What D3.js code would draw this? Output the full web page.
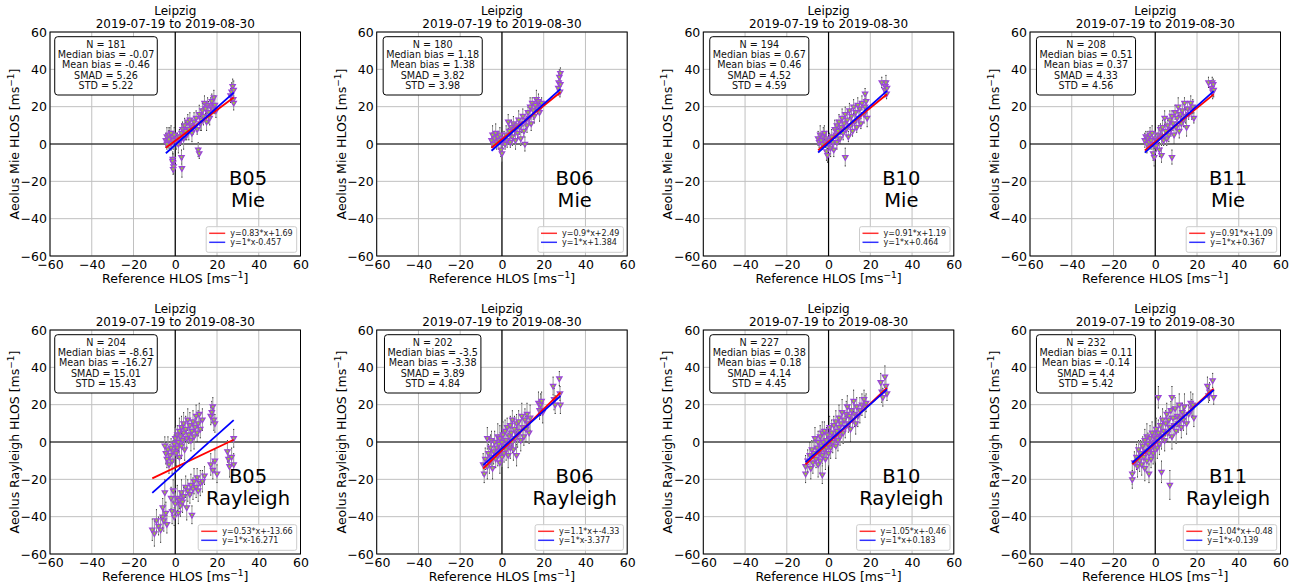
<!DOCTYPE html>
<html>
<head>
<meta charset="utf-8">
<script src="https://cdn.jsdelivr.net/npm/d3@7"></script>
<style>
  body { margin: 0; background: #fff; }
  svg { display: block; font-family: "DejaVu Sans", sans-serif; }
</style>
</head>
<body>
<div id="chart"></div>
<script>
// ---------- data ----------
var panelBaseline = ["B05", "B06", "B10", "B11", "B05", "B06", "B10", "B11"];
var panelChannel  = ["Mie", "Mie", "Mie", "Mie", "Rayleigh", "Rayleigh", "Rayleigh", "Rayleigh"];
var nObs       = [181, 180, 194, 208, 204, 202, 227, 232];
var medianBias = [-0.07, 1.18, 0.67, 0.51, -8.61, -3.5, 0.38, 0.11];
var meanBias   = [-0.46, 1.38, 0.46, 0.37, -16.27, -3.38, 0.18, -0.14];
var smad       = [5.26, 3.82, 4.52, 4.33, 15.01, 3.89, 4.14, 4.4];
var stdDev     = [5.22, 3.98, 4.59, 4.56, 15.43, 4.84, 4.45, 5.42];
var fitSlope     = [0.83, 0.9, 0.91, 0.91, 0.53, 1.1, 1.05, 1.04];
var fitIntercept = [1.69, 2.49, 1.19, 1.09, -13.66, -4.33, -0.46, -0.48];
var biasOffset   = [-0.457, 1.384, 0.464, 0.367, -16.271, -3.377, 0.183, -0.139];
var tickValues = [-60, -40, -20, 0, 20, 40, 60];

// [reference HLOS, Aeolus HLOS, error]
var ptsB05Mie = [[-4.5,2,4],[-4,4,5],[-3.5,1,3],[-3,5,4],[-2.5,3,6],[-2,0.5,4],[-1.5,4,3],[-1,2,5],[-0.5,5,4],[-4,0,3],[-3,2.5,5],[-2,6,4],
  [-1.2,-8,4],[-1,-10,5],[-0.8,-12,4],[-1,-13.5,3],[-1.3,-9,4],
  [0.5,1,4],[1,3,3],[1.5,0,5],[2,4,4],[2.5,2,3],[3,6,5],[3,-7,4],[3.2,-13,5],[3.5,8,4],[4,3,6],
  [4.5,10,4],[5,7,5],[5.5,5,3],[6,12,4],[6.5,8,6],[7,13,4],[7.5,10,3],[8,6,5],[8.5,9,4],
  [9,12,5],[10,14,4],[10.5,8,3],[11,-3,4],[11.5,-5,3],[11.5,16,5],[12,11,4],[12.5,13,6],
  [13,18,4],[13.5,15,5],[14,22,4],[14.5,19,3],[15,12,5],[15.5,21,4],[16,17,6],[16.5,14,4],[17,20,5],[17.5,23,4],[18,19,3],[18.5,25,4],[19,21,5],[19.5,18,4],
  [26.5,26,4],[27,28,5],[27.5,31,4],[27.8,24,3],[28,22,4],[28,29,5]];
var ptsB06Mie = [[-5,2,4],[-4.5,5,5],[-4,0,3],[-3.5,3,4],[-3,6,5],[-2.5,1,4],[-2,4,3],[-1.5,2,5],[-1,5,4],[-0.5,-3,4],[0,-5,5],[0,1,3],
  [1,3,4],[1.5,0,3],[2,5,5],[2.5,2,4],[3,12,4],[3.5,7,5],[4,1,3],[4.5,9,4],[5,4,5],[5.5,11,4],[6,8,3],[6.5,2,5],[7,10,4],[7.5,6,3],
  [8,13,5],[8.5,9,4],[9,3,4],[9.5,11,5],[10,15,4],[10.5,7,3],[11,0,4],[11.5,13,5],[12,10,4],[12.5,17,3],[13,14,4],[13.5,20,5],
  [14,11,4],[14.5,22,3],[15,18,5],[15.5,15,4],[16,21,4],[16.5,24,5],[17,19,3],[17.5,23,4],[18,17,5],[18.5,20,4],[19,22,3],
  [27,30,4],[27.2,33,5],[27.5,36,4],[27.8,28,3],[28,32,4],[28,38,3]];
var ptsB10Mie = [[-5,3,4],[-4.5,1,3],[-4,5,5],[-3.5,2,4],[-3,0,3],[-2.5,4,5],[-2,6,4],[-1.5,1,3],[-1,3,4],[-1,-4,5],[-0.5,-6,4],
  [0,0,3],[0.5,2,4],[1,-2,5],[1.5,4,4],[2,1,3],[2.5,-3,4],[3,8,5],[3.5,5,4],[4,10,3],[4,1,4],[4.5,7,5],[5,12,4],[5.5,3,3],
  [6,9,4],[6.5,14,5],[7,6,4],[7.5,11,3],[8,-7,5],[8,16,4],[8.5,8,4],[9,13,5],[9.5,4,3],[10,18,4],[10.5,10,5],[11,15,4],
  [11.5,7,3],[12,20,4],[12.5,12,5],[13,17,4],[13.5,9,3],[14,21,4],[14.5,14,5],[15,19,4],[15.5,11,3],[16,22,4],[17,16,5],
  [17.5,20,4],[17.5,27,3],[18,23,4],[18.5,14,5],[25.5,33,3],[27,29,4],[27.2,31,3],[27.5,33,4],[27.8,27,3],[28,30,4]];
var ptsB11Mie = [[-5,2,4],[-4.5,4,3],[-4,0,5],[-3.5,3,4],[-3,1,3],[-2.5,5,4],[-2,2,5],[-1.5,6,4],[-1,0,3],[-1,-5,4],[-0.5,-7,5],
  [0,3,4],[0.5,-1,3],[1,2,4],[1.5,5,5],[2,-3,4],[2.5,8,3],[3,-6,4],[3,4,5],[3.5,9,4],[4,2,3],[4.5,14,4],[5,7,5],[5.5,3,4],
  [6,10,3],[6.5,5,4],[7,13,5],[7.5,8,4],[8,-7,4],[8,15,3],[8.5,11,4],[9,5,5],[9.5,17,4],[10,9,3],[10.5,14,4],[11,20,5],
  [11.5,7,4],[12,16,3],[12.5,11,4],[13,18,5],[13.5,13,4],[14,22,3],[14.5,15,4],[15,9,5],[15.5,19,4],[16,16,3],[17,22,4],
  [17.5,18,5],[18,20,4],[18.5,14,3],[25.5,33,3],[27,30,4],[27.3,33,3],[27.5,28,4],[27.8,32,3],[28,29,4]];
var ptsB05Ray = [[-5,-2,5],[-4.5,-6,6],[-4,-9,5],[-3.5,-4,7],[-3,-12,5],[-2.5,-7,6],[-2,-3,5],[-1.5,-10,7],[-1,-5,6],[-0.5,-1,5],
  [0,2,6],[0.5,-6,7],[1,4,5],[1,-3,6],[1.5,0,5],[2,6,7],[2,-8,6],[2.5,3,5],[3,8,6],[3,-2,7],[3.5,1,5],[4,10,6],[4,5,5],
  [4.5,-4,6],[5,7,7],[5.5,2,5],[6,12,6],[6.5,4,5],[7,9,7],[7.5,1,6],[8,6,5],[8.5,11,6],[9,3,7],[9.5,8,5],[10,14,6],
  [10.5,5,5],[11,10,7],[11.5,15,6],[12,7,5],[13,12,6],[17,14,5],[17.5,16,6],[18,19,5],[18.5,12,6],[19,10,5],
  [-11,-47,6],[-10,-49,7],[-9,-42,6],[-8,-45,5],[-7,-47,7],[-6,-40,6],[-6,-35,5],[-5.5,-42,6],[-5,-27,7],[-4.5,-38,6],
  [-4,-44,5],[-2,-30,6],[-1.5,-37,7],[-1,-26,6],[-0.5,-40,5],[0,-33,6],[1,-30,7],[1.5,-38,6],[2,-31,5],[2.5,-34,6],
  [3,-27,7],[3.5,-32,6],[4,-29,5],[5,-24,6],[5.5,-35,7],[6,-26,6],[7,-28,5],[7.5,-23,6],[8,-39,5],[8.5,-25,6],[9,-21,7],
  [10,-24,6],[10.5,-19,5],[11,-26,6],[12,-22,7],[13,-21,6],[14,-18,5],[17,-12,6],[18,-15,5],[19,-10,6],[20,-17,5],
  [25,-5,6],[25.5,-9,5],[26,-13,6],[27,-8,5],[28,-12,6],[28,2,5]];
var ptsB06Ray = [[-9,-12,6],[-8.5,-17,5],[-8,-9,6],[-7,-13,7],[-7,2,6],[-6.5,-6,5],[-6,-11,6],[-5.5,-3,7],[-5,-8,6],[-5,1,5],
  [-4.5,-14,6],[-4,-5,7],[-3.5,0,6],[-3,-9,5],[-2.5,-3,6],[-2,3,7],[-2,-7,6],[-1.5,-1,5],[-1,-11,6],[-1,2,7],[-0.5,-4,6],
  [0,0,5],[0,-8,6],[0.5,4,7],[1,-2,6],[1,-6,5],[1.5,6,6],[2,1,7],[2,-4,6],[2.5,8,5],[3,-1,6],[3,-7,7],[3.5,3,6],[4,9,5],
  [4,-3,6],[4.5,5,7],[5,0,6],[5,12,5],[5.5,-4,6],[6,7,7],[6.5,2,6],[7,10,5],[7,-7,6],[7.5,4,7],[8,11,6],[8.5,6,5],[9,1,6],
  [9.5,14,7],[10,8,6],[10.5,3,5],[11,12,6],[11.5,7,7],[12,15,6],[12.5,10,5],[13,5,6],[13.5,13,7],[17.5,21,6],[18,17,5],
  [18.5,20,6],[19,22,5],[19.5,16,6],[24.5,30,5],[25,23,6],[25.5,20,5],[27.5,34,4],[28,20,5],[27.8,26,4]];
var ptsB10Ray = [[-11,-13,6],[-11,-17,5],[-10,-10,6],[-9,-7,7],[-8.5,-14,6],[-8,-4,5],[-7.5,-11,6],[-7,-6,7],[-6.5,2,6],
  [-6,-9,5],[-5.5,-3,6],[-5,-12,7],[-5,0,6],[-4.5,-6,5],[-4,3,6],[-4,-10,7],[-3.5,-2,6],[-3,-7,5],[-3,5,6],[-3,-17.5,5],
  [-2.5,0,7],[-2,-4,6],[-2,6,5],[-1.5,-9,6],[-1,1,7],[-1,-3,6],[-0.5,4,5],[0,-1,6],[0,-6,7],[0.5,8,6],[1,2,5],[1,-3,6],
  [1.5,5,7],[2,0,6],[2.5,9,5],[3,3,6],[3.5,-2,7],[3.5,11,6],[4,6,5],[4.5,1,6],[5,13,7],[5,8,6],[5.5,3,5],[6,10,6],
  [6.5,16,7],[7,5,6],[7.5,12,5],[8,8,6],[8.5,15,7],[9,19,6],[9.5,10,5],[10,14,6],[10.5,7,7],[11,17,6],[11.5,12,5],
  [12,22,6],[12.5,15,7],[13,10,6],[13.5,19,5],[14,14,6],[15,17,7],[16,20,6],[17,23,5],[17.5,19,6],[18,21,5],
  [25,32,5],[25.5,27,6],[26,24,5],[27,35,6],[27.5,30,5],[28,26,4]];
var ptsB11Ray = [[-11,-17,6],[-11,-20,5],[-10,-11,6],[-9,-8,7],[-8.5,-13,6],[-8,-4,5],[-7.5,-10,6],[-7,-6,7],[-6.5,-12,6],
  [-6,-2,5],[-5.5,-8,6],[-5,-14,7],[-5,1,6],[-4.5,-5,5],[-4,-10,6],[-4,3,7],[-3.5,-1,6],[-3,-17,5],[-3,-6,6],[-2.5,2,7],
  [-2,-3,6],[-2,-9,5],[-1.5,5,6],[-1,-1,7],[-1,-6,6],[-0.5,3,5],[0,0,6],[0,-4,7],[0.5,7,6],[1,2,5],[1,-3,6],[1.5,24,6],
  [1.5,5,7],[2,-1,6],[2.5,9,5],[3,-16,6],[3,3,7],[3.5,12,6],[4,6,5],[4.5,1,6],[5,10,7],[5.5,15,6],[6,5,5],[6.5,12,6],
  [7,-23,8],[7,8,6],[7.5,17,5],[8,24,6],[8,3,7],[8.5,13,6],[9,9,5],[9.5,18,6],[10,6,7],[10.5,14,6],[11,10,5],[11.5,20,6],
  [12,13,7],[12.5,8,6],[13,16,5],[13.5,12,6],[14,19,7],[15,10,6],[16,15,5],[17,21,6],[17.5,18,5],[18,20,6],[18.5,13,5],
  [25,30,5],[25.5,25,4],[26,27,5],[27.5,33,4],[28,24,4]];
var panelPoints = [ptsB05Mie, ptsB06Mie, ptsB10Mie, ptsB11Mie, ptsB05Ray, ptsB06Ray, ptsB10Ray, ptsB11Ray];

// ---------- layout ----------
var W = 1298, H = 588;
var colLeft = [50, 376.7, 703.3, 1030];
var rowTop = [32, 330];
var pw = 250.5, ph = 224;

var svg = d3.select("#chart").append("svg")
  .attr("width", W)
  .attr("height", H);

function minusFmt(d) {
  return d < 0 ? "\u2212" + (-d) : String(d);
}

panelPoints.forEach(function(pts, i) {
  var g = svg.append("g")
    .attr("transform", "translate(" + colLeft[i % 4] + "," + rowTop[Math.floor(i / 4)] + ")");

  var x = d3.scaleLinear().domain([-60, 60]).range([0, pw]);
  var y = d3.scaleLinear().domain([-60, 60]).range([ph, 0]);

  // grid
  g.selectAll(".gx").data(tickValues).enter().append("line")
    .attr("x1", function(d) { return x(d); }).attr("x2", function(d) { return x(d); })
    .attr("y1", 0).attr("y2", ph)
    .style("stroke", "#c0c0c0").style("stroke-width", 1);
  g.selectAll(".gy").data(tickValues).enter().append("line")
    .attr("y1", function(d) { return y(d); }).attr("y2", function(d) { return y(d); })
    .attr("x1", 0).attr("x2", pw)
    .style("stroke", "#c0c0c0").style("stroke-width", 1);

  // zero lines
  g.append("line").attr("x1", x(0)).attr("x2", x(0)).attr("y1", 0).attr("y2", ph)
    .style("stroke", "#000").style("stroke-width", 1.2);
  g.append("line").attr("x1", 0).attr("x2", pw).attr("y1", y(0)).attr("y2", y(0))
    .style("stroke", "#000").style("stroke-width", 1.2);

  // axes
  var xa = g.append("g").attr("transform", "translate(0," + ph + ")")
    .call(d3.axisBottom(x).tickValues(tickValues).tickSize(0).tickPadding(4.5).tickFormat(minusFmt));
  var ya = g.append("g")
    .call(d3.axisLeft(y).tickValues(tickValues).tickSize(0).tickPadding(3).tickFormat(minusFmt));
  [xa, ya].forEach(function(a) {
    a.select(".domain").remove();
    a.selectAll("text").style("font-size", "12.5px").style("fill", "#000")
      .style("font-family", "DejaVu Sans, sans-serif");
  });

  // frame
  g.append("rect").attr("width", pw).attr("height", ph)
    .style("fill", "none").style("stroke", "#000").style("stroke-width", 1);

  // error bars
  var eb = g.selectAll(".eb").data(pts).enter().append("g");
  eb.append("line")
    .attr("x1", function(d) { return x(d[0]); }).attr("x2", function(d) { return x(d[0]); })
    .attr("y1", function(d) { return y(d[1] - d[2]); }).attr("y2", function(d) { return y(d[1] + d[2]); })
    .style("stroke", "#999").style("stroke-width", 1);
  eb.append("line")
    .attr("x1", function(d) { return x(d[0]); }).attr("x2", function(d) { return x(d[0]); })
    .attr("y1", function(d) { return y(d[1] + d[2]); }).attr("y2", function(d) { return y(d[1] + d[2]) + 1; })
    .style("stroke", "#333").style("stroke-width", 1);
  eb.append("line")
    .attr("x1", function(d) { return x(d[0]); }).attr("x2", function(d) { return x(d[0]); })
    .attr("y1", function(d) { return y(d[1] - d[2]); }).attr("y2", function(d) { return y(d[1] - d[2]) - 1; })
    .style("stroke", "#333").style("stroke-width", 1);

  // markers (down triangles)
  var tri = d3.symbol().type(d3.symbolTriangle).size(12);
  g.selectAll(".pt").data(pts).enter().append("path")
    .attr("d", tri)
    .attr("transform", function(d) { return "translate(" + x(d[0]) + "," + y(d[1]) + ") rotate(180)"; })
    .style("fill", "#9acd32")
    .style("stroke", "#9b45d8")
    .style("stroke-width", 1.3);

  // fit lines
  var xmin = d3.min(pts, function(d) { return d[0]; });
  var xmax = d3.max(pts, function(d) { return d[0]; });
  g.append("line")
    .attr("x1", x(xmin)).attr("x2", x(xmax))
    .attr("y1", y(fitSlope[i] * xmin + fitIntercept[i])).attr("y2", y(fitSlope[i] * xmax + fitIntercept[i]))
    .style("stroke", "red").style("stroke-width", 1.8);
  g.append("line")
    .attr("x1", x(xmin)).attr("x2", x(xmax))
    .attr("y1", y(xmin + biasOffset[i])).attr("y2", y(xmax + biasOffset[i]))
    .style("stroke", "blue").style("stroke-width", 1.8);

  // titles
  g.append("text").attr("x", pw / 2).attr("y", -17).attr("text-anchor", "middle")
    .style("font-size", "12px").text("Leipzig");
  g.append("text").attr("x", pw / 2).attr("y", -4).attr("text-anchor", "middle")
    .style("font-size", "12px").text("2019-07-19 to 2019-08-30");

  // axis labels
  var xl = g.append("text").attr("x", pw / 2).attr("y", ph + 26.5).attr("text-anchor", "middle")
    .style("font-size", "12.5px");
  xl.append("tspan").text("Reference HLOS [ms");
  xl.append("tspan").attr("dy", -5).style("font-size", "9px").text("\u22121");
  xl.append("tspan").attr("dy", 5).text("]");

  var yl = g.append("text").attr("transform", "translate(-31," + ph / 2 + ") rotate(-90)")
    .attr("text-anchor", "middle").style("font-size", "12.5px");
  yl.append("tspan").text("Aeolus " + panelChannel[i] + " HLOS [ms");
  yl.append("tspan").attr("dy", -5).style("font-size", "9px").text("\u22121");
  yl.append("tspan").attr("dy", 5).text("]");

  // stats box
  var statLines = ["N = " + nObs[i], "Median bias = " + medianBias[i], "Mean bias = " + meanBias[i],
    "SMAD = " + smad[i], "STD = " + stdDev[i]];
  var sbRect = g.append("rect");
  var sbText = g.append("g");
  sbText.selectAll("text").data(statLines).enter().append("text")
    .attr("x", 56).attr("y", function(d, k) { return 15.8 + k * 10.3; })
    .attr("text-anchor", "middle").style("font-size", "9.6px").style("fill", "#111")
    .text(function(d) { return d; });
  var bb = sbText.node().getBBox();
  sbRect.attr("x", bb.x - 3).attr("y", 4.7).attr("width", bb.width + 6).attr("height", 58.3)
    .attr("rx", 3).attr("ry", 3)
    .style("fill", "#fff").style("stroke", "#000").style("stroke-width", 1);

  // big label
  g.append("text").attr("x", 198).attr("y", 152.5).attr("text-anchor", "middle")
    .style("font-size", "19.5px").text(panelBaseline[i]);
  g.append("text").attr("x", 198).attr("y", 175.2).attr("text-anchor", "middle")
    .style("font-size", "19.5px").text(panelChannel[i]);

  // legend
  var redLabel = "y=" + fitSlope[i] + "*x+" + fitIntercept[i];
  var blueLabel = "y=1*x" + (biasOffset[i] < 0 ? String(biasOffset[i]) : "+" + biasOffset[i]);
  var lg = g.append("g");
  var lgRect = lg.append("rect");
  var lgItems = [{ label: redLabel, color: "red" }, { label: blueLabel, color: "blue" }];
  var lgText = lg.selectAll("text").data(lgItems).enter().append("text")
    .attr("x", 24).attr("y", function(d, k) { return 9.5 + k * 9; })
    .style("font-size", "8px").style("fill", "#222")
    .text(function(d) { return d.label; });
  lg.selectAll(".lh").data(lgItems).enter().append("line")
    .attr("x1", 3).attr("x2", 19)
    .attr("y1", function(d, k) { return 6.6 + k * 9; }).attr("y2", function(d, k) { return 6.6 + k * 9; })
    .style("stroke", function(d) { return d.color; }).style("stroke-width", 1.5).style("opacity", 0.8);
  var tw = d3.max(lgText.nodes(), function(n) { return n.getComputedTextLength(); });
  var lw = 24 + tw + 4, lh = 25.6;
  lgRect.attr("width", lw).attr("height", lh).attr("rx", 2).attr("ry", 2)
    .style("fill", "#fff").style("fill-opacity", 0.85).style("stroke", "#ccc").style("stroke-width", 1);
  lg.attr("transform", "translate(" + (pw - 3.8 - lw) + "," + (ph - 3.7 - lh) + ")");
});
</script>
</body>
</html>
